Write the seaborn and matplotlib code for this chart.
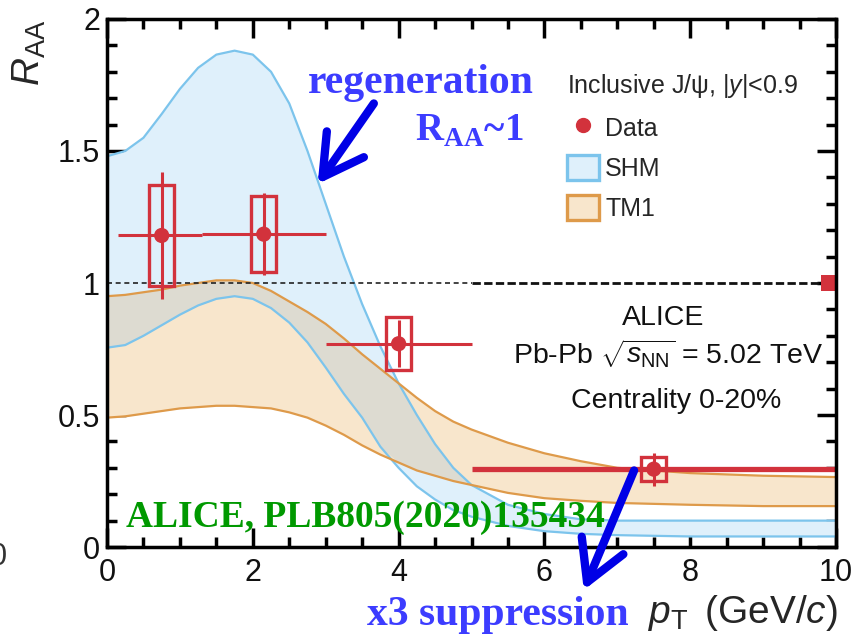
import numpy as np
import pandas as pd
import matplotlib
matplotlib.use("Agg")
import matplotlib.pyplot as plt
import seaborn as sns
from matplotlib.patches import Rectangle, Patch
from matplotlib.lines import Line2D
from matplotlib.ticker import MultipleLocator, FixedLocator, FixedFormatter

# Inclusive J/psi R_AA, ALICE Pb-Pb 5.02 TeV, centrality 0-20%
pt_center = [0.75, 2.15, 4.0, 7.5]
pt_low = [0.15, 1.3, 3.0, 5.0]
pt_high = [1.3, 3.0, 5.0, 10.0]
raa = [1.18, 1.185, 0.77, 0.295]
stat_err = [0.24, 0.155, 0.09, 0.062]
syst_err = [0.19, 0.145, 0.10, 0.045]
global_err = 0.03

# Model bands (SHM, TM1) on a shared pT grid
pt_grid = [0, 0.25, 0.5, 0.75, 1.0, 1.25, 1.5, 1.75, 2.0, 2.25, 2.5, 2.75, 3.0,
           3.25, 3.5, 3.75, 4.0, 4.25, 4.5, 4.75, 5.0, 5.5, 6.0, 6.5, 7.0, 8.0, 9.0, 10.0]
shm_high = [1.48, 1.50, 1.55, 1.64, 1.735, 1.815, 1.865, 1.88, 1.865, 1.80, 1.68, 1.50, 1.30,
            1.10, 0.92, 0.76, 0.62, 0.50, 0.39, 0.30, 0.235, 0.16, 0.125, 0.105, 0.10, 0.10, 0.10, 0.10]
shm_low = [0.755, 0.765, 0.80, 0.84, 0.88, 0.915, 0.94, 0.95, 0.94, 0.905, 0.85, 0.775, 0.68,
           0.58, 0.49, 0.38, 0.30, 0.23, 0.18, 0.14, 0.115, 0.08, 0.06, 0.05, 0.045, 0.04, 0.04, 0.04]
tm1_high = [0.95, 0.955, 0.965, 0.975, 0.99, 1.0, 1.01, 1.01, 1.0, 0.97, 0.93, 0.89, 0.845,
            0.79, 0.73, 0.675, 0.62, 0.565, 0.515, 0.475, 0.445, 0.395, 0.355, 0.325, 0.30, 0.28, 0.27, 0.265]
tm1_low = [0.49, 0.495, 0.505, 0.515, 0.525, 0.53, 0.535, 0.535, 0.53, 0.525, 0.51, 0.49, 0.46,
           0.425, 0.385, 0.35, 0.32, 0.29, 0.27, 0.25, 0.235, 0.205, 0.185, 0.175, 0.167, 0.16, 0.155, 0.155]

x_ticks = [0, 2, 4, 6, 8, 10]
x_tick_labels = ["0", "2", "4", "6", "8", "10"]
y_ticks = [0, 0.5, 1.0, 1.5, 2.0]
y_tick_labels = ["0", "0.5", "1", "1.5", "2"]

RED = "#D2323C"
BLUE_FILL = "#DFF0FB"
BLUE_EDGE = "#7CC4EC"
ORANGE_FILL = "#F8E6CC"
ORANGE_EDGE = "#DE9A4A"
OVERLAP_FILL = "#DDDBD1"

sns.set_theme(style="ticks")
plt.rcParams["font.family"] = ["Liberation Sans", "DejaVu Sans"]
plt.rcParams["mathtext.fontset"] = "custom"
plt.rcParams["mathtext.rm"] = "Liberation Sans"
plt.rcParams["mathtext.it"] = "Liberation Sans:italic"
plt.rcParams["mathtext.bf"] = "Liberation Serif:bold"

fig = plt.figure(figsize=(8.58, 6.41), dpi=100)
ax = fig.add_axes([0.1247, 0.1466, 0.8497, 0.8238])

# model bands
ax.fill_between(pt_grid, shm_low, shm_high, color=BLUE_FILL, lw=0, zorder=1)
ax.fill_between(pt_grid, tm1_low, tm1_high, color=ORANGE_FILL, lw=0, zorder=1.1)
ov_lo = np.maximum(shm_low, tm1_low)
ov_hi = np.minimum(shm_high, tm1_high)
ax.fill_between(pt_grid, ov_lo, ov_hi, where=ov_hi > ov_lo, interpolate=True,
                color=OVERLAP_FILL, lw=0, zorder=1.2)

edges = pd.concat([
    pd.DataFrame({"pt": pt_grid, "raa": shm_high, "curve": "SHM high"}),
    pd.DataFrame({"pt": pt_grid, "raa": shm_low, "curve": "SHM low"}),
    pd.DataFrame({"pt": pt_grid, "raa": tm1_high, "curve": "TM1 high"}),
    pd.DataFrame({"pt": pt_grid, "raa": tm1_low, "curve": "TM1 low"}),
])
sns.lineplot(data=edges, x="pt", y="raa", hue="curve", estimator=None, sort=False,
             palette={"SHM high": BLUE_EDGE, "SHM low": BLUE_EDGE,
                      "TM1 high": ORANGE_EDGE, "TM1 low": ORANGE_EDGE},
             lw=1.6, legend=False, ax=ax, zorder=2)

# unity reference
ax.plot([0, 5], [1, 1], ls=(0, (3, 2.2)), color="#222222", lw=1.2, zorder=2.5)
ax.plot([5, 10], [1, 1], ls=(0, (3, 1.2)), color="#111111", lw=2.0, zorder=2.5)

# data: horizontal bin widths, stat. errors, syst. boxes, markers
hbar_lw = [2.2, 2.2, 2.2, 3.8]
for i in range(len(pt_center)):
    ax.plot([pt_low[i], pt_high[i]], [raa[i], raa[i]], color=RED, lw=hbar_lw[i],
            solid_capstyle="butt", zorder=4)
ax.vlines(pt_center, np.array(raa) - np.array(stat_err), np.array(raa) + np.array(stat_err),
          color=RED, lw=2.2, zorder=4)
for x, y, s in zip(pt_center, raa, syst_err):
    ax.add_patch(Rectangle((x - 0.17, y - s), 0.34, 2 * s, fill=False, ec=RED, lw=2.4, zorder=4))
sns.scatterplot(x=pt_center, y=raa, color=RED, s=120, edgecolor="none", zorder=5, ax=ax)
ax.add_patch(Rectangle((9.8, 1 - global_err), 0.2, 2 * global_err, color=RED, lw=0, zorder=4))

ax.set_xlim(0, 10)
ax.set_ylim(0, 2)
ax.xaxis.set_major_locator(FixedLocator(x_ticks))
ax.xaxis.set_major_formatter(FixedFormatter(x_tick_labels))
ax.yaxis.set_major_locator(FixedLocator(y_ticks))
ax.yaxis.set_major_formatter(FixedFormatter(y_tick_labels))
ax.xaxis.set_minor_locator(MultipleLocator(0.5))
ax.yaxis.set_minor_locator(MultipleLocator(0.1))
ax.tick_params(which="both", direction="in", top=True, right=True, width=2.5, color="black")
ax.tick_params(which="major", length=14)
ax.tick_params(which="minor", length=7.5)
ax.tick_params(axis="x", labelsize=22, pad=8, labelcolor="#111111")
ax.tick_params(axis="y", labelsize=22, pad=5, labelcolor="#111111")
for sp in ax.spines.values():
    sp.set_linewidth(2.5)
    sp.set_color("black")
    sp.set_zorder(6)

ax.set_xlabel(r"$p_{\rm T}\,$ (GeV/$c$)", fontsize=28, ha="right", va="baseline")
ax.xaxis.set_label_coords(1.002, -0.144)
ax.set_ylabel(r"$R_{\rm AA}$", fontsize=28, ha="center", va="center")
ax.yaxis.set_label_coords(-0.106, 0.935)

# legend
handles = [
    Line2D([], [], marker="o", ls="", color=RED, markersize=10),
    Patch(facecolor=BLUE_FILL, edgecolor=BLUE_EDGE, lw=2.4),
    Patch(facecolor=ORANGE_FILL, edgecolor=ORANGE_EDGE, lw=2.4),
]
ax.legend(handles, ["Data", "SHM", "TM1"], title=r"Inclusive J/ψ, |$y$|<0.9",
          loc="upper left", bbox_to_anchor=(0.631, 0.899), frameon=False,
          fontsize=18, title_fontsize=18, alignment="left", handlelength=1.28,
          handleheight=1.2, handletextpad=0.25, labelspacing=0.56, borderpad=0,
          borderaxespad=0)

# collaboration / system text
ax.text(7.63, 0.84, "ALICE", fontsize=20.5, ha="center", va="baseline", color="#111111")
ax.text(7.7, 0.697, r"Pb-Pb $\sqrt{s_{\rm NN}}$ = 5.02 TeV", fontsize=20.5, ha="center",
        va="baseline", color="#111111")
ax.text(7.81, 0.527, "Centrality 0-20%", fontsize=20.5, ha="center", va="baseline",
        color="#111111")

# annotations
serif = dict(family="Liberation Serif", weight="bold")
ax.text(2.76, 1.72, "regeneration", fontsize=30, color="#3C3CFF", va="baseline", **serif)
ax.text(4.23, 1.54, r"$\mathbf{R}_{\mathbf{AA}}$~1", fontsize=28, color="#3C3CFF",
        va="baseline", **serif)
ax.text(0.26, 0.076, "ALICE, PLB805(2020)135434", fontsize=27, color="#009900",
        va="baseline", zorder=7, **serif)
ax.text(3.57, -0.295, "x3 suppression", fontsize=30, color="#3C3CFF", va="baseline",
        clip_on=False, **serif)

arrow_kw = dict(arrowstyle="->,head_length=1.15,head_width=0.65", lw=6, color="#0000E6",
                mutation_scale=25, shrinkA=0, shrinkB=0, capstyle="round", joinstyle="round")
ax.annotate("", xy=(2.89, 1.375), xytext=(3.66, 1.68), arrowprops=arrow_kw,
            annotation_clip=False, zorder=8)
ax.annotate("", xy=(6.54, -0.163), xytext=(7.23, 0.29), arrowprops=arrow_kw,
            annotation_clip=False, zorder=8)

# edge of neighbouring panel label
fig.text(-2 / 858, 1 - 557 / 641, "0", fontsize=22, ha="center", va="center", color="#333333")

fig.savefig("out.png", dpi=100)
